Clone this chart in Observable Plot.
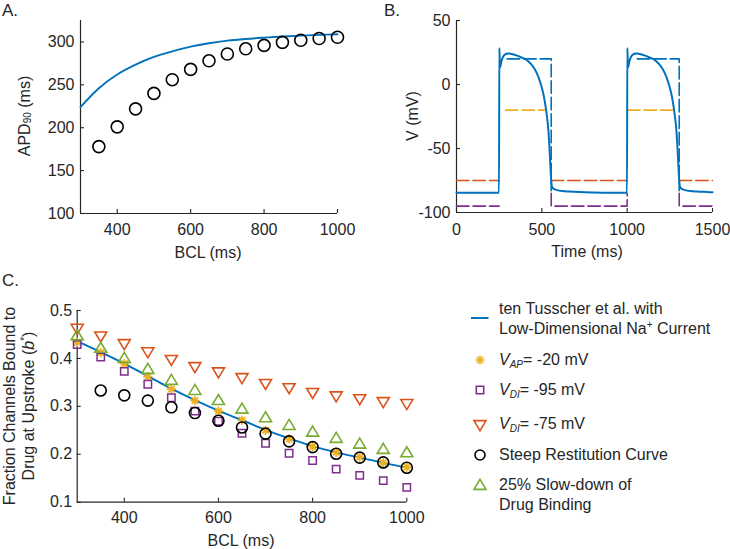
<!DOCTYPE html>
<html><head><meta charset="utf-8">
<script src="https://cdn.jsdelivr.net/npm/d3@7"></script>
<script src="https://cdn.jsdelivr.net/npm/@observablehq/plot@0.6"></script>
<style>
body{margin:0;background:#fff}
#page{position:relative;width:730px;height:549px;overflow:hidden;background:#fff;font-family:"Liberation Sans",Arial,Helvetica,sans-serif}
#page svg{position:absolute;overflow:visible}
</style></head><body><div id="page"></div>
<script>
const FONT = '"Liberation Sans", Arial, Helvetica, sans-serif';
const INK = "#262626";
const BLUE = "#0072BD", ORANGE = "#D95319", YELLOW = "#EDB120", PURPLE = "#7E2F8E", GREEN = "#77AC30";

// ---------- Panel A data ----------
const xTicksA = [400, 600, 800, 1000];
const yTicksA = [100, 150, 200, 250, 300];
const bclLineA = [300, 350, 400, 450, 500, 550, 600, 650, 700, 750, 800, 850, 900, 950, 1000];
const apdModel = [224, 246, 262, 273.5, 282.5, 289, 294.5, 298.5, 301.5, 303.5, 305, 306.3, 307.4, 308.2, 309];
const bclSteep = [350, 400, 450, 500, 550, 600, 650, 700, 750, 800, 850, 900, 950, 1000];
const apdSteep = [178, 201, 222, 240, 256, 268, 278, 286, 292, 296, 299.5, 302, 304, 305.5];

// ---------- Panel B data ----------
const xTicksB = [0, 500, 1000, 1500];
const yTicksB = [-100, -50, 0, 50];
const apTime = [0, 249, 251, 253, 256, 262, 272, 285, 300, 310, 330, 355, 380, 400, 420, 440, 460, 475, 490, 500, 510, 520, 530, 538, 545, 550, 555, 560, 570, 590, 620, 660, 720, 800, 900,
  999, 1001, 1003, 1006, 1012, 1022, 1035, 1050, 1060, 1080, 1105, 1130, 1150, 1170, 1190, 1210, 1225, 1240, 1250, 1260, 1270, 1280, 1288, 1295, 1300, 1305, 1310, 1320, 1340, 1370, 1410, 1470, 1500];
const apVolt = [-84.5, -84.5, 28.5, 20, 13.5, 17.5, 21.5, 23.5, 24.2, 24.2, 23.6, 22.6, 21.2, 20, 18.2, 15.5, 11.5, 7.5, 2, -2.5, -8, -15.5, -25, -35, -50, -63, -75, -80, -81.6, -82.5, -83.2, -83.6, -84, -84.3, -84.5,
  -84.5, 28.5, 20, 13.5, 17.5, 21.5, 23.5, 24.2, 24.2, 23.6, 22.6, 21.2, 20, 18.2, 15.5, 11.5, 7.5, 2, -2.5, -8, -15.5, -25, -35, -50, -63, -75, -80, -81.6, -82.5, -83.2, -83.6, -84, -84.2];
// [time, voltage, segment]
const clampBlue = [[297, 20, 0], [555, 20, 0], [555, -83, 0], [1059, 20, 1], [1305, 20, 1], [1305, -83, 1]];
const clampAP = [[287, -20, 0], [515, -20, 0], [1002, -20, 1], [1265, -20, 1]];
const clampDI75 = [[0, -75, 0], [250, -75, 0], [555, -75, 1], [1000, -75, 1], [1305, -75, 2], [1500, -75, 2]];
const clampDI95 = [[0, -95, 0], [250, -95, 0], [555, -85, 1], [555, -95, 1], [1000, -95, 1], [1000, -85, 1], [1305, -85, 2], [1305, -95, 2], [1500, -95, 2]];

// ---------- Panel C data ----------
const xTicksC = [400, 600, 800, 1000];
const yTicksC = [0.1, 0.2, 0.3, 0.4, 0.5];
const bclC = [300, 350, 400, 450, 500, 550, 600, 650, 700, 750, 800, 850, 900, 950, 1000];
const bModel = [0.436, 0.413, 0.389, 0.363, 0.337, 0.313, 0.291, 0.271, 0.251, 0.233, 0.217, 0.204, 0.193, 0.182, 0.172];
const bVap20 = [0.434, 0.412, 0.389, 0.362, 0.336, 0.312, 0.290, 0.271, 0.250, 0.232, 0.216, 0.204, 0.194, 0.182, 0.173];
const bVdi95 = [0.429, 0.403, 0.373, 0.346, 0.318, 0.290, 0.269, 0.244, 0.223, 0.202, 0.187, 0.169, 0.156, 0.145, 0.131];
const bVdi75 = [0.462, 0.446, 0.430, 0.413, 0.397, 0.382, 0.371, 0.359, 0.347, 0.338, 0.328, 0.321, 0.315, 0.309, 0.305];
const bclSteepC = [350, 400, 450, 500, 550, 600, 650, 700, 750, 800, 850, 900, 950, 1000];
const bSteep = [0.333, 0.323, 0.312, 0.298, 0.286, 0.270, 0.256, 0.243, 0.227, 0.215, 0.201, 0.193, 0.183, 0.172];
const bSlow = [0.448, 0.422, 0.401, 0.378, 0.355, 0.334, 0.313, 0.295, 0.277, 0.261, 0.247, 0.234, 0.222, 0.211, 0.204];

// ---------- marker shapes ----------
const symTriUp = {draw(c) { c.moveTo(0, -5.6); c.lineTo(6, 4.4); c.lineTo(-6, 4.4); c.closePath(); }};
const symTriDown = {draw(c) { c.moveTo(0, 5.6); c.lineTo(6, -4.4); c.lineTo(-6, -4.4); c.closePath(); }};
const symSquare = {draw(c) { c.moveTo(-3.7, -3.7); c.lineTo(3.7, -3.7); c.lineTo(3.7, 3.7); c.lineTo(-3.7, 3.7); c.closePath(); }};
const symStar = {draw(c) { const a = 4.6, b = 3.3;
  c.moveTo(-a, 0); c.lineTo(a, 0); c.moveTo(0, -a); c.lineTo(0, a);
  c.moveTo(-b, -b); c.lineTo(b, b); c.moveTo(-b, b); c.lineTo(b, -b); }};

const zip = (xs, ys) => xs.map((x, i) => ({x, y: ys[i]}));
const style = {fontSize: "16px", fontFamily: FONT, color: INK, background: "transparent", overflow: "visible"};

function frameMarks(xDom, yDom, xTicks, yTicks, innerW, innerH, padX, padY) {
  return [
    Plot.ruleY([yDom[0]], {stroke: INK, strokeWidth: 1.2}),
    Plot.ruleX([xDom[0]], {stroke: INK, strokeWidth: 1.2}),
    Plot.tickX(xTicks, {x: d => d, insetTop: innerH - 4, stroke: INK, strokeWidth: 1.1}),
    Plot.tickY(yTicks, {y: d => d, insetRight: innerW - 4, stroke: INK, strokeWidth: 1.1}),
    Plot.axisX(xTicks, {tickSize: 0, tickPadding: padX, tickFormat: d => String(d), label: null, fill: INK}),
    Plot.axisY(yTicks, {tickSize: 0, tickPadding: padY, tickFormat: d => String(d), label: null, fill: INK})
  ];
}

function label(svg, x, y, parts, {rotate = 0, anchor = "middle", size = 16} = {}) {
  const t = d3.select(svg).append("text")
    .attr("transform", `translate(${x},${y})` + (rotate ? ` rotate(${rotate})` : ""))
    .attr("text-anchor", anchor).attr("font-size", size).attr("font-family", FONT).attr("fill", INK);
  let shift = 0;
  for (const p0 of parts) {
    const p = typeof p0 === "string" ? {t: p0} : p0;
    const s = t.append("tspan").text(p.t);
    const target = p.sub != null ? p.sub : p.sup != null ? -p.sup : 0;
    if (target !== shift) { s.attr("dy", target - shift); shift = target; }
    if (p.size) s.attr("font-size", p.size);
    if (p.i) s.attr("font-style", "italic");
  }
  return t;
}

function place(el, left, top) {
  el.style.left = left + "px"; el.style.top = top + "px";
  document.getElementById("page").appendChild(el);
  return el;
}

// ---------- Panel A ----------
const A = {w: 370, h: 270, ml: 80, mr: 33, mt: 20, mb: 57};
const plotA = Plot.plot({
  width: A.w, height: A.h, marginLeft: A.ml, marginRight: A.mr, marginTop: A.mt, marginBottom: A.mb,
  style,
  x: {domain: [300, 1000]},
  y: {domain: [100, 325]},
  marks: [
    ...frameMarks([300, 1000], [100, 325], xTicksA, yTicksA, A.w - A.ml - A.mr, A.h - A.mt - A.mb, 10.5, 6),
    Plot.line(zip(bclLineA, apdModel), {x: "x", y: "y", stroke: BLUE, strokeWidth: 1.9, curve: "catmull-rom"}),
    Plot.dot(zip(bclSteep, apdSteep), {x: "x", y: "y", r: 6, stroke: "#000", strokeWidth: 1.6, fill: "none"})
  ]
});
place(plotA, 0, 0);
label(plotA, 2, 16, ["A."], {anchor: "start", size: 17});
label(plotA, 30, 116, ["APD", {t: "90", size: 10, sub: 1}, {t: " (ms)"}], {rotate: -90});
label(plotA, 208, 258, ["BCL (ms)"]);

// ---------- Panel B ----------
const B = {w: 360, h: 270, ml: 86, mr: 18, mt: 20, mb: 58};
const dashed = {strokeWidth: 1.6, strokeDasharray: "12.5,4"};
const plotB = Plot.plot({
  width: B.w, height: B.h, marginLeft: B.ml, marginRight: B.mr, marginTop: B.mt, marginBottom: B.mb,
  style,
  x: {domain: [0, 1500]},
  y: {domain: [-100, 50]},
  marks: [
    ...frameMarks([0, 1500], [-100, 50], xTicksB, yTicksB, B.w - B.ml - B.mr, B.h - B.mt - B.mb, 10.7, 6),
    Plot.line(clampDI75, {x: d => d[0], y: d => d[1], z: d => d[2], stroke: ORANGE, ...dashed}),
    Plot.line(clampDI95, {x: d => d[0], y: d => d[1], z: d => d[2], stroke: PURPLE, ...dashed}),
    Plot.line(clampAP, {x: d => d[0], y: d => d[1], z: d => d[2], stroke: YELLOW, ...dashed}),
    Plot.line(clampBlue, {x: d => d[0], y: d => d[1], z: d => d[2], stroke: BLUE, ...dashed}),
    Plot.line(zip(apTime, apVolt), {x: "x", y: "y", stroke: BLUE, strokeWidth: 2, curve: "monotone-x"})
  ]
});
place(plotB, 370, 0);
label(plotB, 14, 16, ["B."], {anchor: "start", size: 17});
label(plotB, 48, 116, ["V (mV)"], {rotate: -90});
label(plotB, 217, 257, ["Time (ms)"]);

// ---------- Panel C ----------
const C = {w: 440, h: 281, ml: 76.7, mr: 33.7, mt: 42, mb: 47.3};
const plotC = Plot.plot({
  width: C.w, height: C.h, marginLeft: C.ml, marginRight: C.mr, marginTop: C.mt, marginBottom: C.mb,
  style,
  x: {domain: [300, 1000]},
  y: {domain: [0.1, 0.5]},
  marks: [
    ...frameMarks([300, 1000], [0.1, 0.5], xTicksC, yTicksC, C.w - C.ml - C.mr, C.h - C.mt - C.mb, 9, 5),
    Plot.line(zip(bclC, bModel), {x: "x", y: "y", stroke: BLUE, strokeWidth: 1.9, curve: "catmull-rom"}),
    Plot.dot(zip(bclC, bVap20), {x: "x", y: "y", symbol: symStar, stroke: YELLOW, strokeWidth: 1.7, fill: "none"}),
    Plot.dot(zip(bclC, bVdi95), {x: "x", y: "y", symbol: symSquare, stroke: PURPLE, strokeWidth: 1.5, fill: "none"}),
    Plot.dot(zip(bclC, bVdi75), {x: "x", y: "y", symbol: symTriDown, stroke: ORANGE, strokeWidth: 1.6, fill: "none"}),
    Plot.dot(zip(bclSteepC, bSteep), {x: "x", y: "y", r: 5.5, stroke: "#000", strokeWidth: 1.6, fill: "none"}),
    Plot.dot(zip(bclC, bSlow), {x: "x", y: "y", symbol: symTriUp, stroke: GREEN, strokeWidth: 1.6, fill: "none"})
  ]
});
place(plotC, 0, 268);
label(plotC, 2, 18, ["C."], {anchor: "start", size: 17});
label(plotC, 15, 138, ["Fraction Channels Bound to"], {rotate: -90});
label(plotC, 34, 138, ["Drug at Upstroke (", {t: "b", i: true}, {t: "*", size: 10, sup: 6}, {t: ")", sup: 0}], {rotate: -90});
label(plotC, 241, 278, ["BCL (ms)"]);

// ---------- Legend ----------
const legendItems = [
  {kind: "line", color: BLUE, lines: [["ten Tusscher et al. with"], ["Low-Dimensional Na", {t: "+", size: 10, sup: 6}, {t: " Current", sup: 0}]]},
  {kind: symStar, color: YELLOW, lines: [[{t: "V", i: true}, {t: "AP", i: true, size: 10, sub: 3}, {t: "= -20 mV", sub: 0}]]},
  {kind: symSquare, color: PURPLE, lines: [[{t: "V", i: true}, {t: "DI", i: true, size: 10, sub: 3}, {t: "= -95 mV", sub: 0}]]},
  {kind: symTriDown, color: ORANGE, lines: [[{t: "V", i: true}, {t: "DI", i: true, size: 10, sub: 3}, {t: "= -75 mV", sub: 0}]]},
  {kind: "circle", color: "#000", lines: [["Steep Restitution Curve"]]},
  {kind: symTriUp, color: GREEN, lines: [["25% Slow-down of"], ["Drug Binding"]]}
];
const legendRowY = [38, 80, 110, 145, 175, 205];       // symbol centre (local)
const legendTextY = [[33.5, 53.5], [85], [115], [149], [180], [210, 230]]; // baselines
const leg = document.createElementNS("http://www.w3.org/2000/svg", "svg");
leg.setAttribute("width", 290); leg.setAttribute("height", 260);
place(leg, 440, 280);
const gl = d3.select(leg);
legendItems.forEach((it, i) => {
  const cy = legendRowY[i];
  if (it.kind === "line") {
    gl.append("line").attr("x1", 31).attr("x2", 48.5).attr("y1", cy).attr("y2", cy).attr("stroke", it.color).attr("stroke-width", 2);
  } else if (it.kind === "circle") {
    gl.append("circle").attr("cx", 40).attr("cy", cy).attr("r", 5).attr("fill", "none").attr("stroke", it.color).attr("stroke-width", 1.6);
  } else {
    gl.append("path").attr("d", d3.symbol(it.kind, 64)()).attr("transform", `translate(40,${cy})`)
      .attr("fill", "none").attr("stroke", it.color).attr("stroke-width", 1.6);
  }
  it.lines.forEach((parts, j) => label(leg, 59, legendTextY[i][j], parts, {anchor: "start"}));
});
</script>
</body></html>
